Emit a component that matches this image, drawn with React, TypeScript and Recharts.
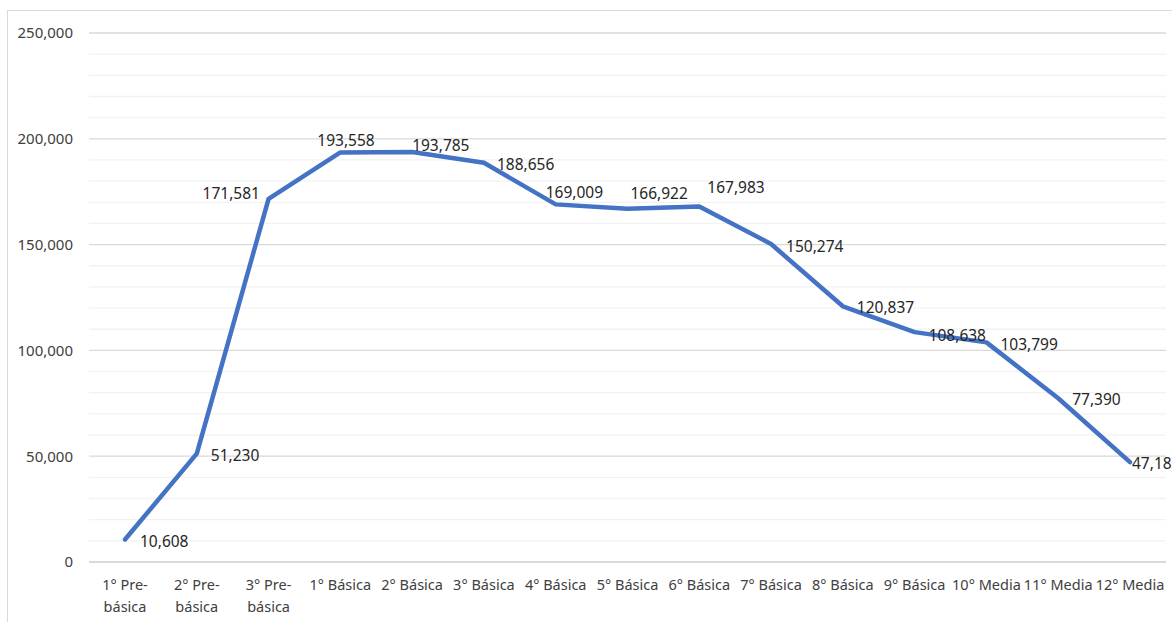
import React from "react";
import { LineChart, Line, XAxis, YAxis, CartesianGrid, ReferenceLine, LabelList } from "recharts";

const categories = [
  "1° Pre-básica", "2° Pre-básica", "3° Pre-básica", "1° Básica", "2° Básica", "3° Básica",
  "4° Básica", "5° Básica", "6° Básica", "7° Básica", "8° Básica", "9° Básica",
  "10° Media", "11° Media", "12° Media",
];
const students = [
  10608, 51230, 171581, 193558, 193785, 188656, 169009, 166922, 167983, 150274,
  120837, 108638, 103799, 77390, 47185,
];
const majorTicks = [0, 50000, 100000, 150000, 200000, 250000];
const minorTicks = [
  10000, 20000, 30000, 40000, 60000, 70000, 80000, 90000, 110000, 120000, 130000, 140000,
  160000, 170000, 180000, 190000, 210000, 220000, 230000, 240000,
];

// label placement tweaks (dx from point to label start, dy of label centre)
const labelDx = [15, 14, -66, -23, 0, 13, -10, 3, 8, 15, 14, 14, 14, 14, 2];
const labelDy = [1, 1, -6, -12, -7, 1, -12, -16, -20, 2, 1, 3, 2, 1, 1];

const data = categories.map((c, i) => ({ name: c, value: students[i] }));

const FONT = "'Noto Sans', 'Open Sans', sans-serif";
const fmt = (v: number) => v.toLocaleString("en-US");

const XTick = (props: any) => {
  const { x, y, payload } = props;
  const s: string = payload.value;
  const idx = s.indexOf("-");
  const lines = idx >= 0 ? [s.slice(0, idx + 1), s.slice(idx + 1)] : [s];
  return (
    <text x={x} y={y} textAnchor="middle" fill="#404040" fontSize={14.5} fontFamily={FONT}>
      {lines.map((l, i) => (
        <tspan key={i} x={x} y={y + 20 + i * 22}>{l}</tspan>
      ))}
    </text>
  );
};

const DataLabel = (props: any) => {
  const { x, y, value, index } = props;
  return (
    <text
      x={x + labelDx[index]}
      y={y + labelDy[index]}
      dominantBaseline="central"
      textAnchor="start"
      fill="#262626"
      fontSize={15.5}
      fontFamily={FONT}
    >
      {fmt(value)}
    </text>
  );
};

export default function App() {
  return (
    <div style={{ position: "absolute", left: 0, top: 0, width: 1172, height: 622, overflow: "hidden", background: "#fff" }}>
      <div style={{ position: "absolute", left: 7, top: 10, width: 1200, height: 700, border: "1px solid #d9d9d9", boxSizing: "border-box" }} />
      <div style={{ position: "absolute", left: 0, top: 0 }}>
        <LineChart width={1172} height={622} data={data} margin={{ top: 33, right: 6, bottom: 0, left: 0 }}>
          {minorTicks.map((t) => (
            <ReferenceLine key={t} y={t} stroke="#f2f2f2" strokeWidth={1.3} ifOverflow="extendDomain" />
          ))}
          <CartesianGrid vertical={false} stroke="#d9d9d9" strokeWidth={1.3} />
          <XAxis
            dataKey="name"
            axisLine={{ stroke: "#d9d9d9", strokeWidth: 1.3 }}
            tickLine={false}
            tick={<XTick />}
            interval={0}
            height={60}
            padding={{ left: 36, right: 36 }}
          />
          <YAxis
            domain={[0, 250000]}
            ticks={majorTicks}
            tickFormatter={fmt}
            axisLine={false}
            tickLine={false}
            tickMargin={10}
            width={89}
            tick={{ fill: "#404040", fontSize: 15, fontFamily: FONT }}
          />
          <Line
            type="linear"
            dataKey="value"
            stroke="#4472C4"
            strokeWidth={4.5}
            dot={false}
            strokeLinejoin="round"
            strokeLinecap="round"
            isAnimationActive={false}
          >
            <LabelList dataKey="value" content={<DataLabel />} />
          </Line>
        </LineChart>
      </div>
    </div>
  );
}
